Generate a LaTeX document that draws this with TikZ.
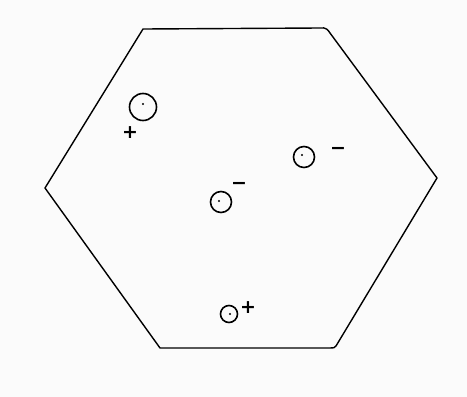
\documentclass[tikz,border=0pt]{standalone}
\usepackage{fontspec}
\setmainfont{DejaVu Sans}
\begin{document}
\begin{tikzpicture}[x=1pt,y=-1pt,
  edge/.style={line width=1.4pt,line cap=round,line join=round},
  charge/.style={circle,draw,line width=1.6pt,inner sep=0pt},
  centre/.style={circle,fill,inner sep=0pt,minimum size=2.2pt},
  sign/.style={inner sep=0pt,font=\fontsize{19}{19}\selectfont\bfseries}]
\fill[white!97!gray] (0,0) rectangle (467,397);
\useasboundingbox (0,0) rectangle (467,397);
% hexagon vertices
\coordinate (v1) at (143,29);
\coordinate (v2) at (320,28);
\coordinate (v3) at (437,178);
\coordinate (v4) at (336,346);
\coordinate (v5) at (160,348);
\coordinate (v6) at (45,188);
\draw[edge] (v1) -- (v2) .. controls (326,27) and (328,30) .. (330,33) -- (v3) -- (v4)
  .. controls (335,348) and (333,348) .. (330,348) -- (v5) -- (v6) -- cycle;
% charges
\node[charge,minimum size=27pt] (c1) at (143,107) {};
\node[centre] at (143,104) {};
\node[sign] (s1) at (130,133) {+};
\node[charge,minimum size=21pt] (c2) at (304,157) {};
\node[centre] at (302,155) {};
\node[sign] (s2) at (338,151) {−};
\node[charge,minimum size=21pt] (c3) at (221,202) {};
\node[centre] at (219,201) {};
\node[sign] (s3) at (239,186) {−};
\node[charge,minimum size=17pt] (c4) at (229,314) {};
\node[centre] at (230,314) {};
\node[sign] (s4) at (248,308) {+};
\end{tikzpicture}
\end{document}
